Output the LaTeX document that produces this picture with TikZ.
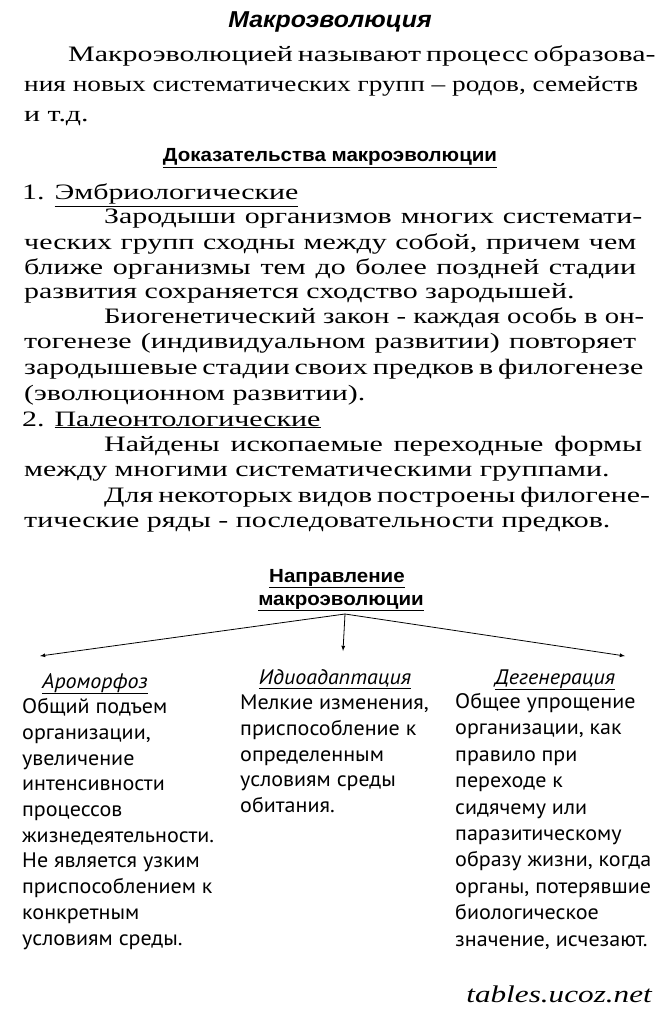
\documentclass[tikz,border=0pt]{standalone}
\usepackage{fontspec}
\usepackage{graphicx}
\setmainfont[FakeStretch=1.36]{Liberation Serif}
\newfontfamily\hsans[FakeStretch=1.08]{Liberation Sans}
\newfontfamily\csans[FakeStretch=1.05]{PT Sans}
\newfontfamily\wfont[FakeStretch=1.3]{Liberation Serif}
\begin{document}
\begin{tikzpicture}[x=1pt,y=-1pt,
  body/.style={anchor=base west,inner sep=0pt,font=\fontsize{22}{22}\selectfont},
  head/.style={anchor=base,inner sep=0pt,font=\hsans\bfseries\fontsize{19}{19}\selectfont},
  col/.style={anchor=base west,inner sep=0pt,font=\csans\fontsize{21}{21}\selectfont},
  colhead/.style={anchor=base,inner sep=0pt,font=\csans\itshape\fontsize{21}{21}\selectfont},
  arr/.style={-latex,thick}]
\useasboundingbox (0,0) rectangle (661,1024);
\newcommand{\jl}[1]{\makebox[612pt][s]{#1}}
\node[head,font=\hsans\bfseries\itshape\fontsize{23}{23}\selectfont] (t) at (330,28) {Макроэволюция};
\node[body] (p1) at (68,62) {\makebox[574pt][s]{Макроэволюцией называют процесс образова-}};
\node[body] (p2) at (24,92) {\resizebox{614pt}{\height}{ния новых систематических групп -- родов, семейств}};
\node[body] (p3) at (24,122) {и т.д.};
\node[head] (h1) at (330,162) {\underline{Доказательства макроэволюции}};
\node[body] (a0) at (22,200) {1. \underline{Эмбриологические}};
\node[body] (a1) at (104,224) {\makebox[538pt][s]{Зародыши организмов многих системати-}};
\node[body] (a2) at (24,249) {\jl{ческих групп сходны между собой, причем чем}};
\node[body] (a3) at (24,274) {\jl{ближе организмы тем до более поздней стадии}};
\node[body] (a4) at (24,298) {развития сохраняется сходство зародышей.};
\node[body] (a5) at (104,323) {\resizebox{540pt}{\height}{Биогенетический закон - каждая особь в он-}};
\node[body] (a6) at (24,348) {\jl{тогенезе (индивидуальном развитии) повторяет}};
\node[body] (a7) at (24,374) {\jl{зародышевые стадии своих предков в филогенезе}};
\node[body] (a8) at (24,400) {(эволюционном развитии).};
\node[body] (b0) at (22,426) {2. \underline{Палеонтологические}};
\node[body] (b1) at (104,451) {\makebox[538pt][s]{Найдены ископаемые переходные формы}};
\node[body] (b2) at (24,476) {между многими систематическими группами.};
\node[body] (b3) at (104,502) {\makebox[538pt][s]{Для некоторых видов построены филогене-}};
\node[body] (b4) at (24,527) {тические ряды - последовательности предков.};
\node[head] (n1) at (337,582) {\underline{Направление}};
\node[head] (n2) at (341,605) {\underline{макроэволюции}};
\coordinate (o) at (345,614);
\coordinate (l) at (40,656);
\coordinate (d) at (343,651);
\coordinate (r) at (625,656);
\draw[arr] (o) -- (l);
\draw[arr] (o) -- (d);
\draw[arr] (o) -- (r);
\node[colhead] (c1) at (95,688) {\underline{Ароморфоз}};
\node[colhead] (c2) at (335,684) {\underline{Идиоадаптация}};
\node[colhead] (c3) at (555,684) {\underline{Дегенерация}};
\foreach \t [count=\i] in {Общий подъем,{организации,},увеличение,интенсивности,процессов,жизнедеятельности.,Не является узким,приспособлением к,конкретным,условиям среды.}
  \node[col] (l\i) at (22,{688+25.7*\i}) {\t};
\foreach \t [count=\i] in {{Мелкие изменения,},приспособление к,определенным,условиям среды,обитания.}
  \node[col] (m\i) at (240,{684+25.7*\i}) {\t};
\foreach \t [count=\i] in {Общее упрощение,{организации, как},правило при,переходе к,сидячему или,паразитическому,{образу жизни, когда},{органы, потерявшие},биологическое,{значение, исчезают.}}
  \node[col] (r\i) at (455,{682+26.4*\i}) {\t};
\node[anchor=base east,inner sep=0pt,font=\wfont\itshape\fontsize{24}{24}\selectfont] (w) at (652,1002) {tables.ucoz.net};
\end{tikzpicture}
\end{document}
